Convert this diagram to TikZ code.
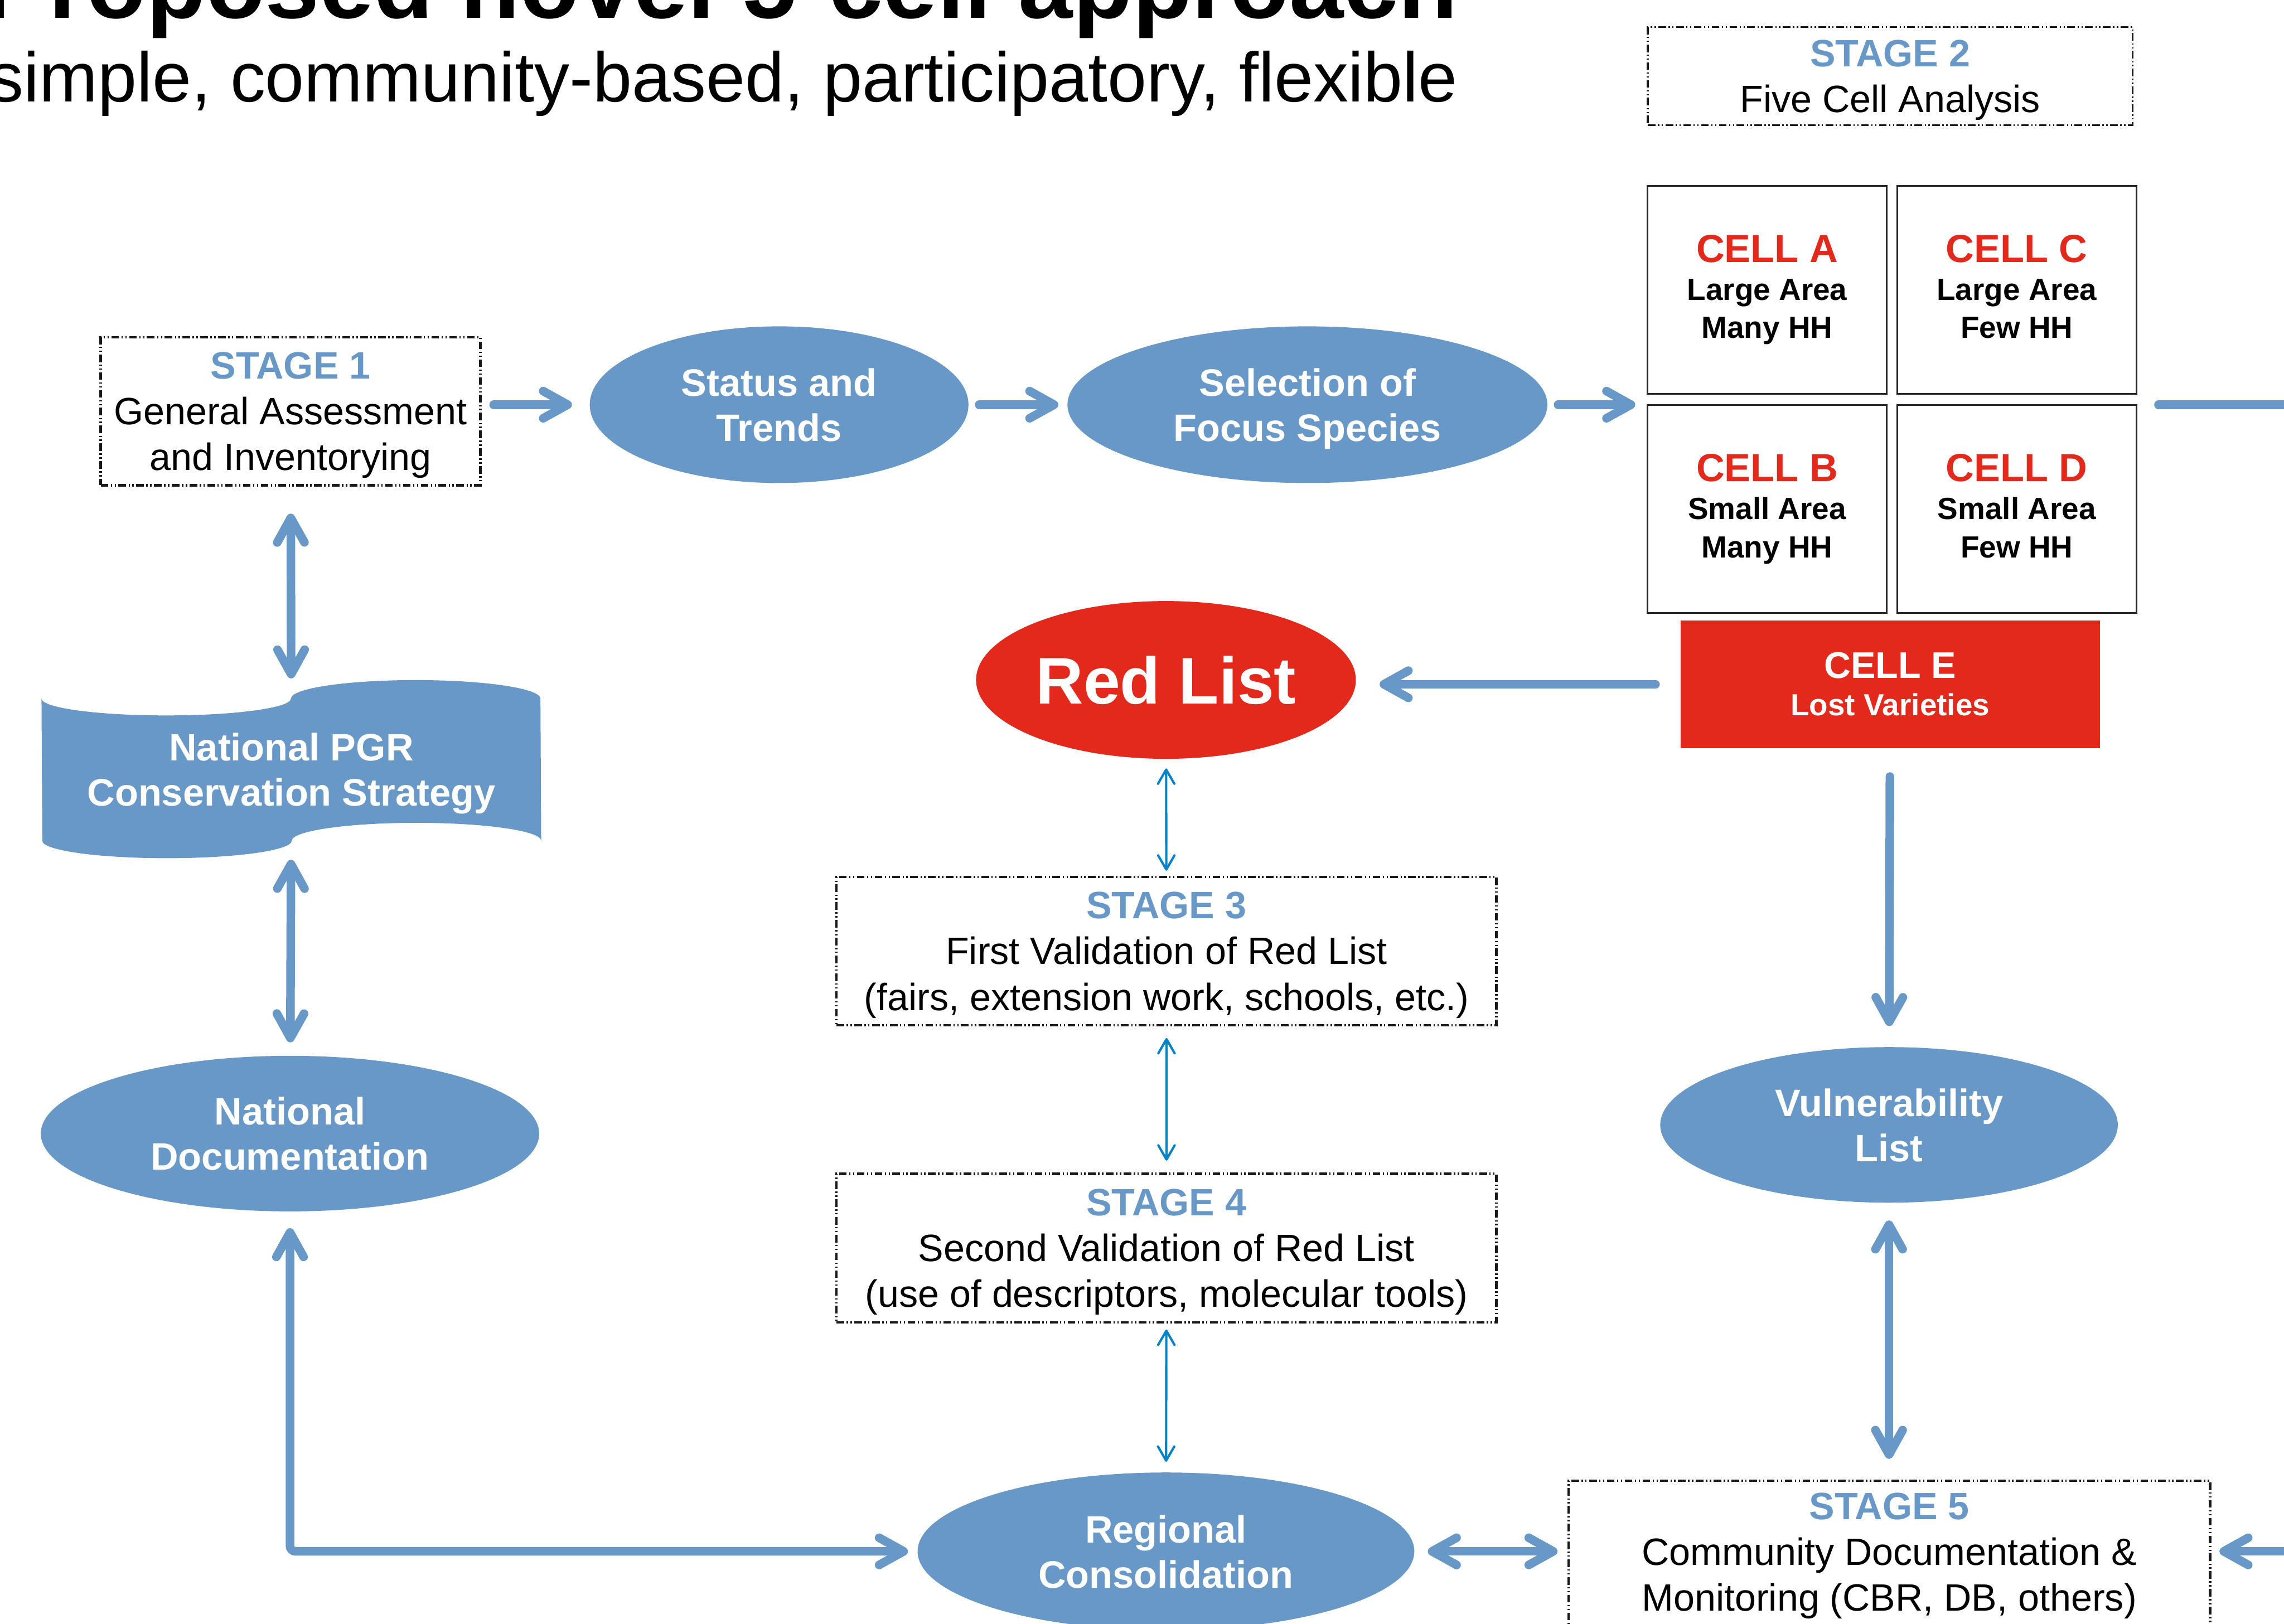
\documentclass[tikz,border=0pt]{standalone}
\usepackage{fontspec}
\setmainfont{Liberation Sans}
\usepackage{xcolor}
\usepackage{tikz}
\usetikzlibrary{shapes.geometric, arrows.meta, positioning, backgrounds}

\definecolor{pgrblue}{RGB}{104,152,200}
\definecolor{thinblue}{RGB}{0,130,200}
\definecolor{cellred}{RGB}{226,41,27}

\newcommand{\stagelbl}[1]{\textcolor{pgrblue}{\textbf{#1}}}
\newcommand{\celltag}[1]{{\color{cellred}\fontsize{20.5}{19.9}\selectfont #1}}

\begin{document}
\begin{tikzpicture}[
    % dash-dot-dot frames for the stages
    stagebox/.style={
        rectangle, draw=black!90, line width=1.3pt,
        dash pattern=on 4pt off 1.3pt on 0.7pt off 1.3pt on 0.7pt off 1.3pt,
        align=center, inner sep=0pt, text depth=0pt,
        font=\fontsize{19.9}{24}\selectfont
    },
    blob/.style={
        ellipse, fill=pgrblue, text=white, inner sep=0pt, align=center,
        text depth=0pt,
        font=\fontsize{20}{23.6}\selectfont\bfseries
    },
    cellbox/.style={
        rectangle, draw=black!85, line width=0.8pt, inner sep=0pt, align=center,
        minimum width=4.4cm, minimum height=3.82cm, text depth=3.4pt,
        font=\fontsize{16}{19.9}\selectfont\bfseries
    },
    flow/.style={line width=4.5pt, draw=pgrblue, line cap=round,
        >={Straight Barb[length=4.5mm, width=5mm, round]}},
    thinflow/.style={line width=1.2pt, draw=thinblue,
        >={Straight Barb[length=2.6mm, width=3mm, round]}}
]
  \useasboundingbox (0,0) rectangle (41.98,29.85);
  \clip (0,0) rectangle (41.98,29.85);

  % Heading (cut at the top edge)
  \node[anchor=base east, inner sep=0pt, font=\fontsize{51}{60}\selectfont\bfseries] (title) at (26.80,29.52) {Proposed novel 5-cell approach};
  \node[anchor=base east, inner sep=0pt, font=\fontsize{36.7}{44}\selectfont] (subtitle) at (26.80,27.98) {simple, community-based, participatory, flexible};

  % Top Row: assessment and selection
  \node[stagebox, minimum width=6.98cm, minimum height=2.72cm] (stage1) at (5.34,22.29) {\stagelbl{STAGE 1}\\General Assessment\\and Inventorying};
  \node[blob, minimum width=6.96cm, minimum height=2.88cm] (status) at (14.32,22.41) {Status and\\Trends};
  \node[blob, minimum width=8.82cm, minimum height=2.88cm] (select) at (24.03,22.41) {Selection of\\Focus Species};

  % Five cells
  \node[stagebox, line width=1pt, minimum width=8.91cm, minimum height=1.8cm] (stage2) at (34.74,28.45) {\stagelbl{STAGE 2}\\Five Cell Analysis};
  \node[cellbox] (cellA) at (32.48,24.52) {\celltag{CELL A}\\Large Area\\Many HH};
  \node[cellbox, right=0.16cm of cellA] (cellC) {\celltag{CELL C}\\Large Area\\Few HH};
  \node[cellbox, below=0.18cm of cellA] (cellB) {\celltag{CELL B}\\Small Area\\Many HH};
  \node[cellbox, below=0.18cm of cellC] (cellD) {\celltag{CELL D}\\Small Area\\Few HH};
  \node[rectangle, fill=cellred, text=white, inner sep=0pt, align=center,
        minimum width=7.71cm, minimum height=2.34cm,
        font=\fontsize{16}{19.6}\selectfont\bfseries] (cellE) at (34.74,17.27) {{\fontsize{19.4}{19.6}\selectfont CELL E}\\Lost Varieties};

  % Middle column: red list and validation
  \node[blob, fill=cellred, minimum width=6.98cm, minimum height=2.9cm, font=\fontsize{34.5}{40}\selectfont\bfseries] (redlist) at (21.43,17.35) {Red List};
  \node[stagebox, minimum width=12.13cm, minimum height=2.73cm] (stage3) at (21.44,12.365) {\stagelbl{STAGE 3}\\First Validation of Red List\\(fairs, extension work, schools, etc.)};
  \node[stagebox, minimum width=12.13cm, minimum height=2.73cm] (stage4) at (21.44,6.905) {\stagelbl{STAGE 4}\\Second Validation of Red List\\(use of descriptors, molecular tools)};
  \node[blob, minimum width=9.13cm, minimum height=2.9cm] (regional) at (21.43,1.33) {Regional\\Consolidation};

  % Left column: national level
  \node[inner sep=0pt, align=center, text=white, minimum width=9.17cm, minimum height=2.6cm,
        text depth=0pt, font=\fontsize{20}{23.6}\selectfont\bfseries] (pgr) at (5.355,15.70) {National PGR\\Conservation Strategy};
  \begin{scope}[on background layer]
    \fill[pgrblue] (pgr.north west)
      arc[start angle=180, end angle=360, x radius=2.2925cm, y radius=0.31cm]
      arc[start angle=180, end angle=0, x radius=2.2925cm, y radius=0.34cm]
      -- (pgr.south east)
      arc[start angle=0, end angle=180, x radius=2.2925cm, y radius=0.33cm]
      arc[start angle=0, end angle=-180, x radius=2.2925cm, y radius=0.32cm]
      -- cycle;
  \end{scope}
  \node[blob, minimum width=9.16cm, minimum height=2.86cm] (natdoc) at (5.33,9.01) {National\\Documentation};

  % Right column: vulnerability and community
  \node[blob, minimum width=8.41cm, minimum height=2.86cm] (vuln) at (34.72,9.17) {Vulnerability\\List};
  \node[stagebox, text depth=, anchor=north, minimum width=11.79cm, minimum height=2.76cm] (stage5) at (34.725,2.65) {\stagelbl{STAGE 5}\\Community Documentation \&\\Monitoring (CBR, DB, others)};

  % Connecting Arrows
  \draw[flow, ->, shorten <=0.22cm, shorten >=0.32cm] (stage1.east |- status) -- (status);
  \draw[flow, ->, shorten <=0.19cm, shorten >=0.16cm] (status) -- (select);
  \draw[flow, ->, shorten <=0.19cm, shorten >=0.21cm] (select) -- (select -| cellB.west);
  \draw[flow, ->, shorten <=0.45cm, shorten >=0.43cm] (cellE) -- (cellE -| redlist.east);
  \draw[flow, ->, shorten <=0.52cm, shorten >=0.38cm] (cellE) -- (vuln);
  \draw[flow, <->, shorten <=0.32cm, shorten >=0.38cm] (vuln) -- (vuln |- stage5.north);
  \draw[flow, <->, shorten <=0.24cm, shorten >=0.18cm] (regional) -- (regional -| stage5.west);
  \draw[flow, <->, shorten <=0.50cm, shorten >=0.37cm] (stage1) -- (pgr);
  \draw[flow, <->, shorten <=0.35cm, shorten >=0.24cm] (pgr) -- (natdoc);
  \draw[flow, <->, rounded corners=0.1cm, shorten <=0.30cm, shorten >=0.17cm] (natdoc) |- (regional);
  \draw[flow, ->, shorten <=0.39cm, shorten >=0.15cm] (select -| cellC.east) -- ++(4,0) |- (stage5.east |- regional);

  % Validation loop
  \draw[thinflow, <->, shorten <=0.17cm, shorten >=0.09cm] (redlist) -- (stage3);
  \draw[thinflow, <->, shorten <=0.21cm, shorten >=0.22cm] (stage3) -- (stage4);
  \draw[thinflow, <->, shorten <=0.11cm, shorten >=0.19cm] (stage4) -- (regional);

\end{tikzpicture}
\end{document}
